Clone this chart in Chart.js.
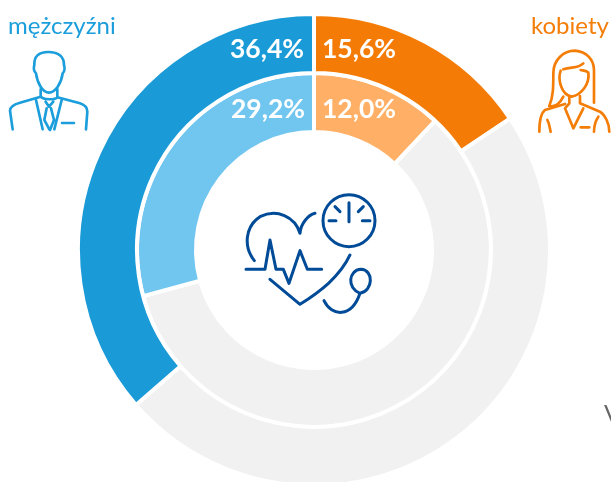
<!DOCTYPE html>
<html lang="pl"><head><meta charset="utf-8">
<script src="https://cdn.jsdelivr.net/npm/chart.js@4"></script>
<style>
html,body{margin:0;padding:0;width:611px;height:482px;overflow:hidden;background:#fff;font-family:Lato,sans-serif}
#wrap{position:absolute;left:0;top:0;width:611px;height:482px;overflow:hidden}
#box{position:absolute;left:-2px;top:12px;width:632px;height:476px}
svg{position:absolute;left:0;top:0;overflow:visible}
.t{position:absolute;font-size:24px;line-height:26px;white-space:nowrap}
</style></head><body>
<div id="wrap">
<div id="box"><canvas id="c"></canvas></div>
<div class="t" style="left:8px;top:12px;color:#1b9edb">mężczyźni</div>
<div class="t" style="left:531px;top:12px;color:#f47d07">kobiety</div>
<div class="t" style="left:604px;top:400px;color:#666;font-size:24px">V</div>
<svg width="611" height="482" fill="none" stroke-linecap="round" stroke-linejoin="round">
<g transform="scale(.3333)" stroke="#1b9edb" stroke-width="8">
<path d="M145 156C115 156 102 170 103 195C100 205 100 212 108 220C112 250 128 278 147 278C166 278 184 250 188 220C196 212 195 205 192 195C192 170 175 156 145 156Z"/>
<path d="M122 268V290L60 308C45 312 30 318 30 332L38 388M172 268V292L240 310C255 315 262 325 262 335L258 388"/>
<path d="M122 290C130 300 165 300 172 292M108 300L128 388M185 300L163 388M137 305L147 320L160 305M140 325L133 360L148 388M153 325L162 360L150 390M186 369H222"/>
</g>
<g transform="translate(520,0) scale(.3333)" stroke="#f47d07" stroke-width="8">
<path d="M88 318C100 290 100 260 100 220C100 180 130 152 165 152C200 155 222 180 222 210V308M130 208C155 200 175 205 190 190"/>
<path d="M122 212C112 240 125 285 155 290C185 285 210 250 205 218C200 212 190 212 182 210M88 318C105 322 120 310 130 290"/>
<path d="M148 288V310L135 325L160 385L190 325M180 288V310L240 335C255 345 268 370 268 395M75 330C62 340 58 360 58 395M75 330L135 312M82 360C90 375 90 390 92 395M235 350C225 365 222 380 222 395M182 382H208"/>
</g>
<g transform="translate(230,180) scale(.3333)" stroke="#004b97" stroke-width="9">
<path d="M73 242C40 200 45 140 90 110C140 85 195 110 210 160C212 130 235 105 255 100"/>
<path d="M48 268H105L120 180L138 268H160L177 310L210 212L232 268H275"/>
<path d="M120 298L210 373C270 335 330 290 360 225"/>
<circle cx="357" cy="122" r="78"/>
<path d="M357 68V125M315 80L330 95M400 80L385 95M297 122H318M397 122H420"/>
<path d="M282 362C305 410 365 415 390 340C350 325 355 270 393 268C432 270 430 332 390 340"/>
</g>
</svg>
</div>
<script>
const categories = ['kobiety', 'pozostali', 'mężczyźni'];
const outerValues = [15.6, 48.0, 36.4];
const innerValues = [12.0, 58.8, 29.2];
const outerColors = ['#f47c06', '#f1f1f1', '#1a9bd8'];
const innerColors = ['#ffb066', '#f1f1f1', '#71c6f0'];
const labelFont = 'bold 26.5px Lato, sans-serif';
const fmt = v => v.toFixed(1).replace('.', ',') + '%';

const sliceLabels = {
  id: 'sliceLabels',
  afterDatasetsDraw(chart) {
    const ctx = chart.ctx;
    ctx.save();
    ctx.font = labelFont;
    ctx.fillStyle = '#fff';
    ctx.textBaseline = 'middle';
    chart.data.datasets.forEach((ds, d) => {
      const arcs = chart.getDatasetMeta(d).data;
      ds.data.forEach((v, i) => {
        if (i === 1) return;
        const a = arcs[i];
        const r = (a.innerRadius + a.outerRadius) / 2;
        ctx.textAlign = i === 0 ? 'left' : 'right';
        const x = a.x + (i === 0 ? 8 : (d === 0 ? -10 : -9));
        const y = a.y - r + (d === 0 ? 6 : 7);
        ctx.fillText(fmt(v), x, y);
      });
    });
    ctx.restore();
  }
};

new Chart(document.getElementById('c'), {
  type: 'doughnut',
  data: {
    labels: categories,
    datasets: [
      { data: outerValues, backgroundColor: outerColors, borderColor: '#fff', borderWidth: 4, hoverOffset: 0 },
      { data: innerValues, backgroundColor: innerColors, borderColor: '#fff', borderWidth: 4, hoverOffset: 0 }
    ]
  },
  options: {
    responsive: true, maintainAspectRatio: false, animation: false,
    cutout: 118,
    layout: { padding: 0 },
    plugins: { legend: { display: false }, tooltip: { enabled: false } }
  },
  plugins: [sliceLabels]
});
</script>
</body></html>
